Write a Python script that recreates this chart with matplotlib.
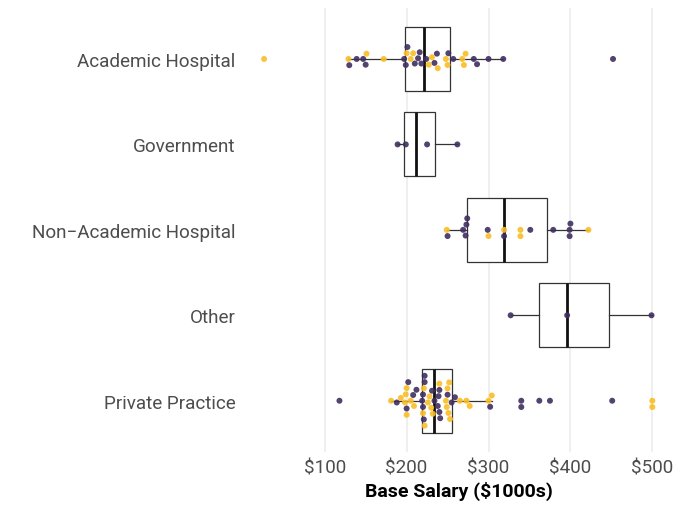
import matplotlib
matplotlib.use('Agg')
import matplotlib.pyplot as plt
import numpy as np
import pandas as pd
import seaborn as sns

# Categories, top to bottom
settings = ['Academic Hospital', 'Government', 'Non\u2212Academic Hospital', 'Other', 'Private Practice']

# Base salary ($1000s), split by the two point colours
acad_purple = [130, 139, 147, 150, 197, 199, 201, 210, 214, 216, 218, 224, 234, 237, 251, 257, 282, 286, 300, 318, 452]
acad_yellow = [26, 129, 151, 172, 200, 205, 208, 227, 231, 238, 248, 250, 268, 270, 272]

gov_purple = [189, 199, 225, 262]
gov_yellow = []

nonacad_purple = [250, 269, 272, 273, 274, 299, 319, 351, 379, 399, 399, 400]
nonacad_yellow = [249, 300, 319, 339, 339, 422]

other_purple = [327, 396, 499]
other_yellow = []

priv_purple = [118, 188, 200, 202, 208, 212, 219, 220, 220, 221, 222, 222, 231, 234, 238, 239,
               240, 240, 241, 250, 255, 259, 302, 340, 340, 362, 375, 451]
priv_yellow = [181, 193, 198, 199, 200, 200, 205, 209, 220, 221, 222, 226, 228, 230, 232, 240,
               248, 249, 250, 251, 252, 253, 265, 273, 277, 300, 304, 500, 500]

x_ticks = [100, 200, 300, 400, 500]
x_tick_labels = ['$100', '$200', '$300', '$400', '$500']

purple = '#3F2E5F'
yellow = '#F9BE25'

# Armar la tabla larga
groups = [(acad_purple, acad_yellow), (gov_purple, gov_yellow), (nonacad_purple, nonacad_yellow),
          (other_purple, other_yellow), (priv_purple, priv_yellow)]
rows = []
for name, (p, y) in zip(settings, groups):
    rows += [(name, v, 'a') for v in p]
    rows += [(name, v, 'b') for v in y]
df = pd.DataFrame(rows, columns=['setting', 'salary', 'group'])

plt.rcParams['font.family'] = ['Roboto', 'DejaVu Sans']

fig = plt.figure(figsize=(6.8, 5.1), dpi=100)
ax = fig.add_axes([245 / 680, 1 - 453 / 510, 427 / 680, 444.3 / 510])

# Cajas
box_data = [df.loc[df.setting == s, 'salary'].values for s in settings]
ax.boxplot(box_data, positions=np.arange(len(settings)), orientation='horizontal', widths=0.75,
           patch_artist=True, showfliers=False, showcaps=False,
           boxprops=dict(facecolor='white', edgecolor='#333333', linewidth=0.9),
           medianprops=dict(color='#111111', linewidth=2.0),
           whiskerprops=dict(color='#333333', linewidth=0.9), zorder=2)

# Puntos tipo beeswarm
sns.swarmplot(data=df, x='salary', y='setting', hue='group', order=settings, hue_order=['a', 'b'],
              palette={'a': purple, 'b': yellow}, size=4.3, alpha=0.9, linewidth=0,
              legend=False, ax=ax, zorder=3)

ax.set_xlim(2.7, 524)
ax.set_ylim(len(settings) - 1 + 0.6, -0.6)
ax.set_xticks(x_ticks)
ax.set_xticklabels(x_tick_labels)
ax.set_yticks(np.arange(len(settings)))
ax.set_yticklabels(settings)
ax.tick_params(axis='both', length=0, labelsize=13.6, colors='#4D4D4D')
ax.tick_params(axis='x', pad=5)
ax.tick_params(axis='y', pad=7)
ax.grid(axis='x', color='#EBEBEB', linewidth=1.1, zorder=0)
ax.grid(axis='y', visible=False)
ax.set_axisbelow(True)
for s in ax.spines.values():
    s.set_visible(False)
ax.set_xlabel('Base Salary ($1000s)', fontsize=14, fontweight='bold', color='black', labelpad=3)
ax.set_ylabel('')

fig.savefig('out.png', dpi=100)
